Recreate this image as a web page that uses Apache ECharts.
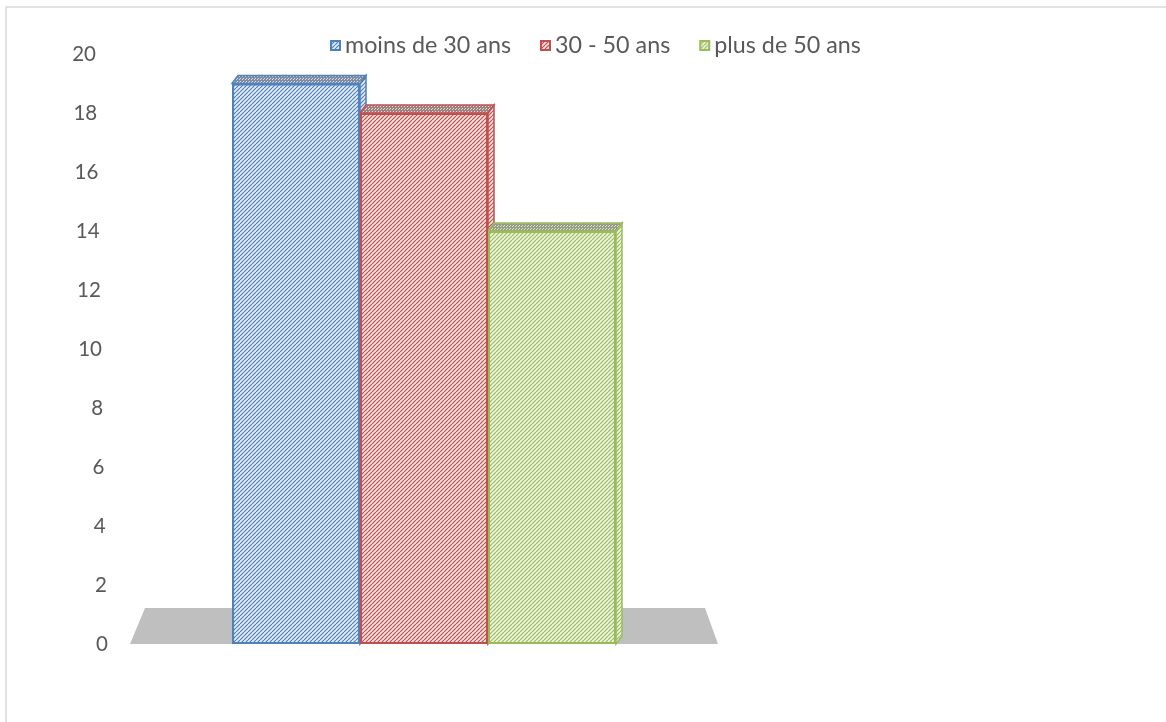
<!DOCTYPE html>
<html><head><meta charset="utf-8">
<script src="https://cdn.jsdelivr.net/npm/echarts@6/dist/echarts.min.js"></script>
<style>html,body{margin:0;padding:0;background:#fff}#c{width:1166px;height:722px}</style>
</head><body><div id="c"></div>
<script>
// ---- data ----
const categories = [''];
const seriesNames = ['moins de 30 ans', '30 - 50 ans', 'plus de 50 ans'];
const seriesValues = [19, 18, 14];
const yMin = 0, yMax = 20, yInterval = 2;

// ---- styles ----
const seriesColors = ['#4f81bd', '#c0504d', '#9bbb59'];
const seriesLight = ['#e4ecf7', '#f7e2e1', '#eef4e2'];
const seriesTop = ['#7d8ca3', '#a07f7f', '#959e82'];
const BAR_W = 128, DX = 6, DY = 8;
const FONT = 'Lato, "Open Sans", sans-serif';

function stripe(bg, fg, size, lw) {
  const c = document.createElement('canvas'); c.width = c.height = size;
  const g = c.getContext('2d');
  g.fillStyle = bg; g.fillRect(0, 0, size, size);
  g.strokeStyle = fg; g.lineWidth = lw; g.beginPath();
  for (let k = -1; k <= 1; k++) { g.moveTo(k * size, size); g.lineTo(k * size + size, 0); }
  g.stroke();
  return { image: c, repeat: 'repeat' };
}
function dots(bg, fg) {
  const c = document.createElement('canvas'); c.width = c.height = 3;
  const g = c.getContext('2d');
  g.fillStyle = bg; g.fillRect(0, 0, 3, 3);
  g.fillStyle = fg; g.fillRect(0, 0, 1, 1); g.fillRect(2, 1, 1, 1);
  return { image: c, repeat: 'repeat' };
}
const frontPat = seriesColors.map((c, i) => stripe(seriesLight[i], c, 4, 1.2));
const topPat = seriesColors.map((c, i) => dots(seriesTop[i], '#dedede'));

// per-label right padding imitating the slanted 3D axis
const labelRich = {};
for (let v = yMin; v <= yMax; v += yInterval) {
  labelRich['p' + v] = { color: '#595959', fontSize: 20.5, fontFamily: FONT, padding: [0, 0.6 * v, 0, 0] };
}

const chart = echarts.init(document.getElementById('c'), null, { renderer: 'canvas' });

const barSeries = seriesNames.map((name, i) => ({
  type: 'bar', name: name, data: [seriesValues[i]],
  barWidth: BAR_W, barGap: '0%', z: 3,
  itemStyle: { color: frontPat[i], borderColor: seriesColors[i], borderWidth: 2 }
}));

const depthSeries = {
  type: 'custom', z: 2, silent: true,
  data: seriesValues.map((v, i) => [0, v, i]),
  renderItem: function (params, api) {
    const i = api.value(2);
    const top = api.coord([api.value(0), api.value(1)]);
    const base = api.coord([api.value(0), 0]);
    const n = seriesValues.length;
    const xl = top[0] - n * BAR_W / 2 + i * BAR_W, xr = xl + BAR_W;
    const col = seriesColors[i];
    return { type: 'group', children: [
      { type: 'polygon', shape: { points: [[xr, top[1]], [xr + DX, top[1] - DY], [xr + DX, base[1] - DY], [xr, base[1]]] },
        style: { fill: frontPat[i], stroke: col, lineWidth: 1.5 } },
      { type: 'polygon', shape: { points: [[xl, top[1]], [xl + DX, top[1] - DY], [xr + DX, top[1] - DY], [xr, top[1]]] },
        style: { fill: topPat[i], stroke: col, lineWidth: 1.5 } }
    ] };
  }
};

const floorSeries = {
  type: 'custom', z: 1, silent: true, data: [[0, 0]],
  renderItem: function (params, api) {
    const cs = params.coordSys;
    const y0 = api.coord([0, 0])[1];
    return { type: 'polygon', shape: { points: [[cs.x, y0], [cs.x + 15, y0 - 36], [cs.x + cs.width - 13, y0 - 36], [cs.x + cs.width, y0]] },
      style: { fill: '#bfbfbf' } };
  }
};

chart.setOption({
  animation: false,
  backgroundColor: '#ffffff',
  graphic: [{ type: 'rect', shape: { x: 6, y: 7, width: 1200, height: 800 }, style: { fill: 'none', stroke: '#d9d9d9', lineWidth: 1.5 }, silent: true }],
  legend: {
    data: seriesNames, left: 325, top: 29, icon: 'rect', itemWidth: 9, itemHeight: 9, itemGap: 29,
    textStyle: { color: '#595959', fontSize: 23.3, fontFamily: FONT }
  },
  grid: { left: 130, right: 448, top: 54, bottom: 78 },
  xAxis: { type: 'category', data: categories, axisLine: { show: false }, axisTick: { show: false }, axisLabel: { show: false } },
  yAxis: {
    type: 'value', min: yMin, max: yMax, interval: yInterval,
    axisLine: { show: false }, axisTick: { show: false }, splitLine: { show: false },
    axisLabel: { margin: 22, formatter: v => '{p' + v + '|' + v + '}', rich: labelRich }
  },
  series: [floorSeries, depthSeries].concat(barSeries)
});
</script></body></html>
